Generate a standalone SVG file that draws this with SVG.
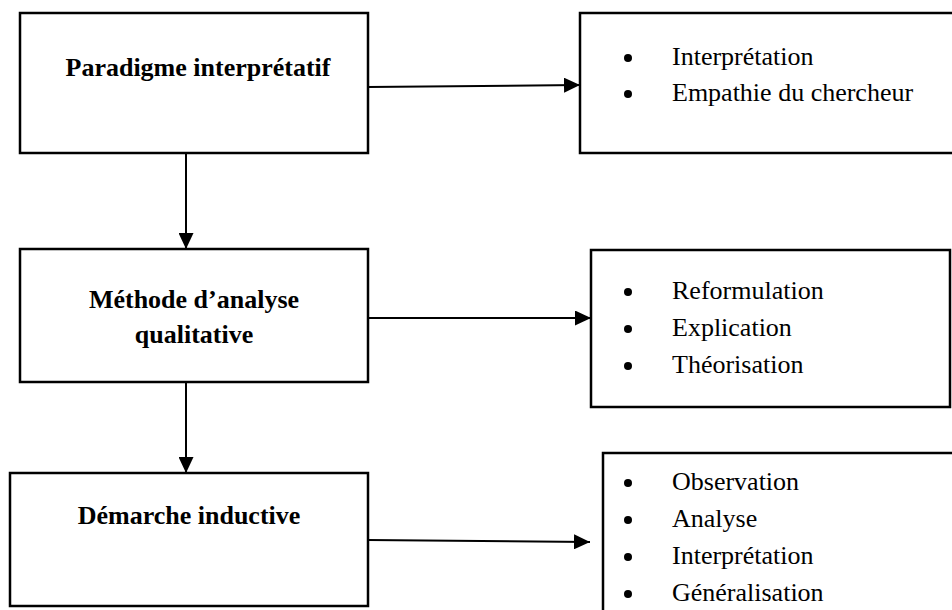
<svg xmlns="http://www.w3.org/2000/svg" width="952" height="610" viewBox="0 0 952 610">
  <style>
    .box { fill: #ffffff; stroke: #000000; stroke-width: 2.5; }
    .title { font-family: "Liberation Serif", "Times New Roman", serif; font-weight: bold; font-size: 26px; fill: #000000; text-anchor: middle; }
    .item { font-family: "Liberation Serif", "Times New Roman", serif; font-size: 26px; fill: #000000; }
    .bullet { fill: #000000; }
    .link { stroke: #000000; stroke-width: 2; fill: none; marker-end: url(#arrow); }
  </style>
  <defs>
    <marker id="arrow" markerUnits="userSpaceOnUse" markerWidth="16" markerHeight="15" refX="16" refY="7.5" orient="auto">
      <path d="M0,0 L16,7.5 L0,15 z" fill="#000000"/>
    </marker>
  </defs>
  <rect width="952" height="610" fill="#ffffff"/>

  <!-- connectors -->
  <g id="connectors">
    <line class="link" x1="368" y1="87" x2="580" y2="85"/>
    <line class="link" x1="186" y1="153" x2="186" y2="249"/>
    <line class="link" x1="368" y1="318" x2="591" y2="318"/>
    <line class="link" x1="186" y1="382" x2="186" y2="473"/>
    <line class="link" x1="368" y1="540" x2="590" y2="542"/>
  </g>

  <!-- left column -->
  <g id="paradigme">
    <rect class="box" x="20" y="13" width="348" height="140"/>
    <text class="title" x="198" y="76">Paradigme interprétatif</text>
  </g>
  <g id="methode">
    <rect class="box" x="20" y="249" width="348" height="133"/>
    <text class="title" x="194" y="308">Méthode d’analyse</text>
    <text class="title" x="194" y="343">qualitative</text>
  </g>
  <g id="demarche">
    <rect class="box" x="10" y="473" width="358" height="133"/>
    <text class="title" x="189" y="524">Démarche inductive</text>
  </g>

  <!-- right column -->
  <g id="paradigme-details">
    <rect class="box" x="580" y="13" width="390" height="140"/>
    <circle class="bullet" cx="628" cy="58" r="4"/>
    <text class="item" x="672" y="65">Interprétation</text>
    <circle class="bullet" cx="628" cy="94" r="4"/>
    <text class="item" x="672" y="101">Empathie du chercheur</text>
  </g>
  <g id="methode-details">
    <rect class="box" x="591" y="250" width="359" height="157"/>
    <circle class="bullet" cx="628" cy="292" r="4"/>
    <text class="item" x="672" y="299">Reformulation</text>
    <circle class="bullet" cx="628" cy="329" r="4"/>
    <text class="item" x="672" y="336">Explication</text>
    <circle class="bullet" cx="628" cy="366" r="4"/>
    <text class="item" x="672" y="373">Théorisation</text>
  </g>
  <g id="demarche-details">
    <rect class="box" x="603" y="453" width="380" height="200"/>
    <circle class="bullet" cx="628" cy="483" r="4"/>
    <text class="item" x="672" y="490">Observation</text>
    <circle class="bullet" cx="628" cy="520" r="4"/>
    <text class="item" x="672" y="527">Analyse</text>
    <circle class="bullet" cx="628" cy="557" r="4"/>
    <text class="item" x="672" y="564">Interprétation</text>
    <circle class="bullet" cx="628" cy="594" r="4"/>
    <text class="item" x="672" y="601">Généralisation</text>
  </g>
</svg>
